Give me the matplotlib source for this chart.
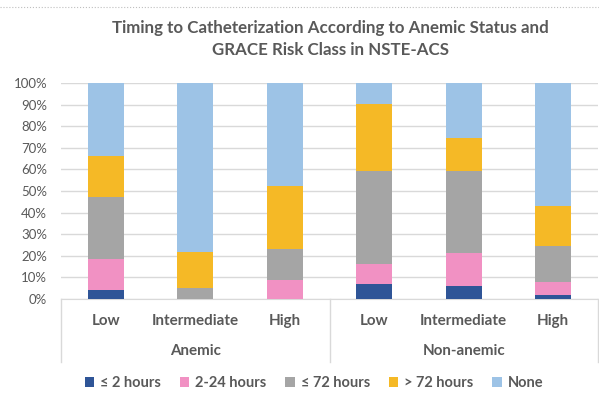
import numpy as np
import matplotlib
matplotlib.use("Agg")
import matplotlib.pyplot as plt
from matplotlib.lines import Line2D

plt.rcParams['font.family'] = ['Lato', 'DejaVu Sans']

# data (percent of patients)
risk_classes = ['Low', 'Intermediate', 'High', 'Low', 'Intermediate', 'High']
groups = ['Anemic', 'Non-anemic']
series_names = ['≤ 2 hours', '2-24 hours', '≤ 72 hours', '> 72 hours', 'None']
le_2h = [4.3, 0.0, 0.0, 6.8, 6.0, 2.0]
h2_24 = [14.2, 0.0, 9.0, 9.6, 15.3, 5.7]
le_72h = [28.9, 5.1, 14.1, 42.7, 37.8, 16.7]
gt_72h = [19.0, 16.8, 29.2, 31.3, 15.6, 18.7]
none = [33.6, 78.1, 47.7, 9.6, 25.3, 56.9]

colors = ['#2F5597', '#F191C3', '#A5A5A5', '#F5B926', '#9DC3E6']
text_col = '#595959'

W, H = 599, 403
fig = plt.figure(figsize=(W / 100, H / 100), dpi=100)
ax = fig.add_axes([61 / W, 1 - 299 / H, (598 - 61) / W, 216 / H])

x = np.arange(len(risk_classes))
bottom = np.zeros(len(x))
for name, vals, c in zip(series_names, [le_2h, h2_24, le_72h, gt_72h, none], colors):
    v = np.array(vals) / 100.0
    ax.bar(x, v, 0.4, bottom=bottom, color=c, label=name, zorder=3)
    bottom += v

ax.set_xlim(-0.5, len(x) - 0.5)
ax.set_ylim(0, 1)
ax.set_yticks(np.arange(0, 1.01, 0.1))
ax.set_yticklabels([f'{int(round(t * 100))}%' for t in np.arange(0, 1.01, 0.1)],
                   color=text_col, fontsize=9.5)
ax.yaxis.grid(True, color='#D9D9D9', linewidth=1, zorder=0)
ax.tick_params(axis='y', length=0, pad=10)
ax.set_xticks([])
for s in ['top', 'right', 'left']:
    ax.spines[s].set_visible(False)
ax.spines['bottom'].set_color('#D9D9D9')

# category labels and group separators
trans = ax.get_xaxis_transform()
for i, lab in enumerate(risk_classes):
    ax.text(i, -22 / 216, lab, transform=trans, ha='center', va='center',
            color=text_col, fontsize=10.9, fontweight='bold')
for gi, g in enumerate(groups):
    ax.text(gi * 3 + 1, -52 / 216, g, transform=trans, ha='center', va='center',
            color=text_col, fontsize=10.9, fontweight='bold')
for xs in [-0.5, 2.5, 5.5]:
    ax.add_line(Line2D([xs, xs], [0, -63 / 216], transform=trans, color='#D9D9D9',
                       linewidth=1, clip_on=False))

fig.text(330 / W, 1 - 39 / H,
         'Timing to Catheterization According to Anemic Status and\nGRACE Risk Class in NSTE-ACS',
         ha='center', va='center', color=text_col, fontsize=12.2, fontweight='bold',
         linespacing=1.5)

# top border line
fig.add_artist(Line2D([0, 1], [1 - 7 / H, 1 - 7 / H], transform=fig.transFigure,
                      color='#BFBFBF', linewidth=0.8, linestyle=':'))

leg = fig.legend(loc='center', bbox_to_anchor=(314 / W, 1 - 383 / H), ncol=5,
                 frameon=False, fontsize=10.5, handlelength=0.65, handleheight=0.65,
                 columnspacing=1.3, handletextpad=0.4)
for t in leg.get_texts():
    t.set_color(text_col)
    t.set_fontweight('bold')

fig.savefig('out.png', dpi=100)
